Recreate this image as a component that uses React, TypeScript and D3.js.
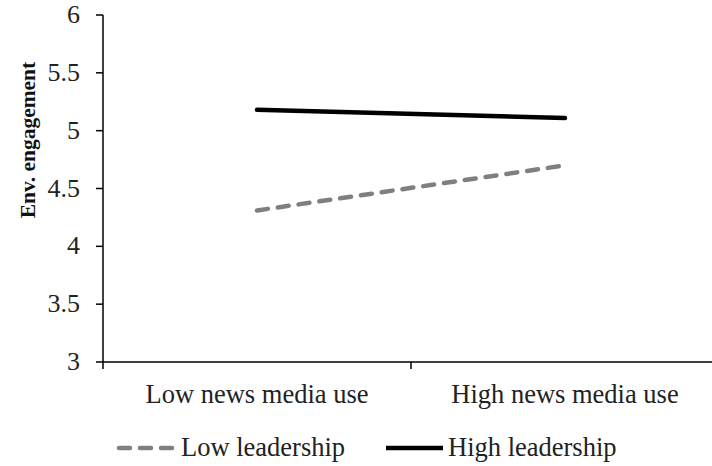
import React from "react";
import * as d3 from "d3";

const categories = ["Low news media use", "High news media use"];
const lowLeadership = [4.31, 4.70];
const highLeadership = [5.18, 5.11];
const yTicks = [3, 3.5, 4, 4.5, 5, 5.5, 6];
const seriesNames = ["Low leadership", "High leadership"];

const W = 712;
const H = 466;
const FONT = "Liberation Serif, serif";

export default function App() {
  const left = 103;
  const right = 719;
  const top = 15;
  const bottom = 362;

  const x = d3.scaleBand<string>().domain(categories).range([left, right]).padding(0);
  const y = d3.scaleLinear().domain([3, 6]).range([bottom, top]);

  const line = d3
    .line<number>()
    .x((_, i) => (x(categories[i]) as number) + x.bandwidth() / 2)
    .y((d) => y(d));

  const boundaries = [left, ...categories.map((c) => (x(c) as number) + x.bandwidth())];
  const ts = { fontFamily: FONT };

  return (
    <svg
      width={W}
      height={H}
      style={{ position: "absolute", left: 0, top: 0, background: "#fff" }}
    >
      <g>
        {/* y axis */}
        <line x1={left} x2={left} y1={top} y2={bottom} stroke="#000" strokeWidth={1.5} />
        {yTicks.map((t) => (
          <g key={t}>
            <line x1={left - 7} x2={left} y1={y(t)} y2={y(t)} stroke="#000" strokeWidth={1.5} />
            <text x={80} y={y(t) + 8} textAnchor="end" fontSize={26} fill="#222" style={ts}>
              {t}
            </text>
          </g>
        ))}
        {/* x axis */}
        <line x1={left} x2={W} y1={bottom} y2={bottom} stroke="#000" strokeWidth={1.5} />
        {boundaries.map((b, i) => (
          <line key={i} x1={b} x2={b} y1={bottom} y2={bottom + 7} stroke="#000" strokeWidth={1.5} />
        ))}
        {categories.map((c) => (
          <text
            key={c}
            x={(x(c) as number) + x.bandwidth() / 2}
            y={403}
            textAnchor="middle"
            fontSize={26.5}
            fill="#222"
            style={ts}
          >
            {c}
          </text>
        ))}
        {/* y title */}
        <text
          transform="translate(35, 140) rotate(-90)"
          textAnchor="middle"
          fontSize={21.5}
          fontWeight="bold"
          fill="#111"
          style={ts}
        >
          Env. engagement
        </text>
      </g>
      {/* series */}
      <path
        d={line(lowLeadership) || ""}
        fill="none"
        stroke="#7f7f7f"
        strokeWidth={4.5}
        strokeDasharray="11 10"
        strokeLinecap="round"
      />
      <path
        d={line(highLeadership) || ""}
        fill="none"
        stroke="#000"
        strokeWidth={4.5}
        strokeLinecap="round"
      />
      {/* legend */}
      <line
        x1={119}
        x2={174}
        y1={448}
        y2={448}
        stroke="#7f7f7f"
        strokeWidth={4.5}
        strokeDasharray="11 10"
        strokeLinecap="round"
      />
      <text x={181} y={456} fontSize={26.5} fill="#222" style={ts}>
        {seriesNames[0]}
      </text>
      <line x1={386} x2={443} y1={448} y2={448} stroke="#000" strokeWidth={4.5} />
      <text x={448} y={456} fontSize={26.5} fill="#222" style={ts}>
        {seriesNames[1]}
      </text>
    </svg>
  );
}
